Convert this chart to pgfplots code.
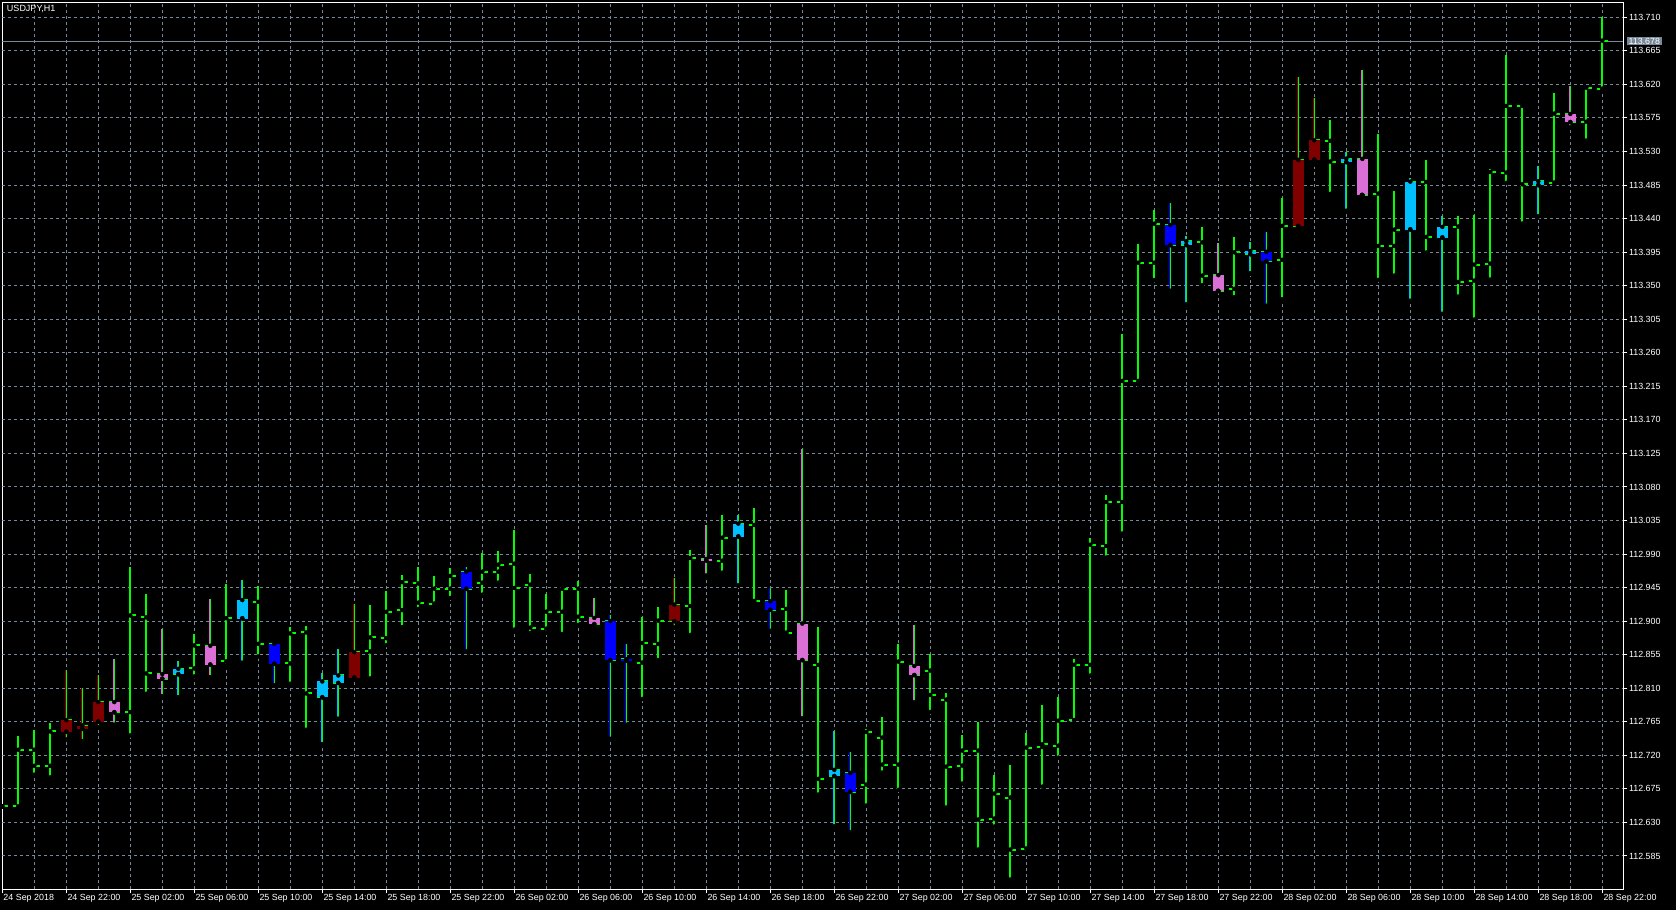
\documentclass[border=0pt]{standalone}
\usepackage{pgfplots}
\pgfplotsset{compat=1.18}
\usepackage{pgfplotstable}
\usepackage{fontspec}
\setmainfont{Liberation Sans}

\definecolor{barGreen}{HTML}{00FF00}
\definecolor{cMaroon}{HTML}{800000}
\definecolor{cPink}{HTML}{DA70D6}
\definecolor{cSky}{HTML}{00BFFF}
\definecolor{cBlue}{HTML}{0000FF}
\definecolor{gridGray}{HTML}{778899}

\newcommand{\ticksize}{\fontsize{8.9pt}{10pt}\selectfont}

% hourly bars USDJPY H1, x = bar index (0 = 24 Sep 18:00)
\pgfplotstableread{
x O H L C
0 112.6515 112.6515 112.6515 112.6515
1 112.6515 112.746 112.649 112.7275
2 112.7275 112.7534 112.694 112.706
3 112.706 112.7637 112.6904 112.752
4 112.752 112.8347 112.741 112.7672
5 112.756 112.810 112.739 112.760
6 112.7655 112.8271 112.7574 112.7914
7 112.7914 112.8495 112.761 112.778
8 112.778 112.972 112.7467 112.9076
9 112.905 112.9367 112.8026 112.8298
10 112.829 112.8897 112.799 112.823
11 112.829 112.8464 112.7976 112.836
12 112.8365 112.883 112.8258 112.8674
13 112.867 112.930 112.8245 112.842
14 112.8459 112.9496 112.8406 112.904
15 112.904 112.9554 112.8441 112.9282
16 112.9259 112.9474 112.8526 112.8696
17 112.8696 112.8714 112.8137 112.8432
18 112.8432 112.8924 112.816 112.8835
19 112.8848 112.8937 112.7543 112.803
20 112.7981 112.8307 112.7346 112.8191
21 112.8173 112.8629 112.769 112.8271
22 112.8245 112.9228 112.8227 112.8584
23 112.8593 112.9215 112.8231 112.8781
24 112.8772 112.9407 112.8678 112.9125
25 112.9148 112.9617 112.892 112.9523
26 112.9505 112.9726 112.9163 112.9248
27 112.9235 112.9606 112.919 112.9436
28 112.9436 112.9713 112.9311 112.9606
29 112.9664 112.9731 112.8591 112.9436
30 112.9516 112.991 112.9355 112.9664
31 112.9664 112.9941 112.9516 112.9758
32 112.9771 113.0223 112.8886 112.9445
33 112.949 112.9633 112.8841 112.8913
34 112.8899 112.9364 112.8841 112.9127
35 112.9127 112.9454 112.8828 112.9436
36 112.9436 112.9539 112.8949 112.906
37 112.9043 112.9311 112.8926 112.8962
38 112.9002 112.9078 112.742 112.8479
39 112.8488 112.8689 112.7608 112.8475
40 112.8444 112.9056 112.7956 112.8707
41 112.8694 112.919 112.8479 112.9007
42 112.9002 112.9574 112.8913 112.9221
43 112.9203 112.9954 112.8815 112.9847
44 112.9834 113.029 112.961 112.9816
45 112.9811 113.0424 112.965 113.012
46 113.0138 113.042 112.9477 113.0308
47 113.029 113.0514 112.9249 112.9271
48 112.9267 112.9441 112.8869 112.9155
49 112.9164 112.9414 112.8837 112.8846
50 112.8967 113.1305 112.7693 112.848
51 112.8413 112.8918 112.6674 112.6884
52 112.6924 112.7523 112.6245 112.7005
53 112.6964 112.7242 112.6164 112.6714
54 112.6808 112.755 112.6526 112.7514
55 112.7438 112.7715 112.6969 112.7076
56 112.7076 112.8694 112.6736 112.8457
57 112.8399 112.8945 112.7908 112.8279
58 112.8337 112.8556 112.7782 112.801
59 112.7948 112.8033 112.65 112.7049
60 112.7063 112.7474 112.6821 112.7264
61 112.7264 112.7648 112.5936 112.6339
62 112.6352 112.6933 112.6245 112.6687
63 112.6634 112.7072 112.5534 112.5936
64 112.595 112.7496 112.5896 112.7304
65 112.7312 112.7876 112.678 112.7348
66 112.733 112.7983 112.7169 112.7665
67 112.7674 112.8492 112.767 112.8416
68 112.8414 113.0114 112.827 113.0025
69 113.0008 113.0693 112.9853 113.0598
70 113.0598 113.2851 113.0175 113.2222
71 113.2222 113.4058 113.2172 113.3808
72 113.3808 113.4514 113.3574 113.4331
73 113.4314 113.4609 113.343 113.4047
74 113.4047 113.4164 113.3246 113.4097
75 113.408 113.4286 113.3507 113.3635
76 113.3641 113.4075 113.343 113.343
77 113.3457 113.4153 113.3346 113.3947
78 113.3925 113.4086 113.3663 113.3965
79 113.3953 113.422 113.3229 113.383
80 113.3847 113.4676 113.3318 113.4303
81 113.4303 113.630 113.4286 113.5188
82 113.5193 113.6011 113.5126 113.5449
83 113.5443 113.5722 113.4731 113.5165
84 113.516 113.5289 113.4503 113.5204
85 113.520 113.6393 113.4717 113.4717
86 113.4735 113.5535 113.3577 113.4033
87 113.4033 113.4771 113.3635 113.4252
88 113.4257 113.4941 113.3296 113.4896
89 113.4891 113.5186 113.3944 113.4154
90 113.4149 113.4436 113.3121 113.4288
91 113.4293 113.4436 113.3354 113.355
92 113.3568 113.4449 113.3045 113.3783
93 113.3796 113.5066 113.3582 113.5026
94 113.5017 113.6595 113.4878 113.5911
95 113.5911 113.5933 113.4333 113.486
96 113.4851 113.5106 113.4427 113.490
97 113.4883 113.6085 113.4851 113.5808
98 113.5803 113.6179 113.562 113.5696
99 113.570 113.6174 113.5446 113.6156
100 113.6143 113.7104 113.6134 113.6787
}\bars

\pgfplotstableread{
x O H L C
4 112.752 112.8347 112.741 112.7672
5 112.756 112.810 112.739 112.760
6 112.7655 112.8271 112.7574 112.7914
22 112.8245 112.9228 112.8227 112.8584
42 112.9002 112.9574 112.8913 112.9221
81 113.4303 113.630 113.4286 113.5188
82 113.5193 113.6011 113.5126 113.5449
}\maroonc

\pgfplotstableread{
x O H L C
7 112.7914 112.8495 112.761 112.778
10 112.829 112.8897 112.799 112.823
13 112.867 112.930 112.8245 112.842
37 112.9043 112.9311 112.8926 112.8962
44 112.9834 113.029 112.961 112.9816
50 112.8967 113.1305 112.7693 112.848
57 112.8399 112.8945 112.7908 112.8279
76 113.3641 113.4075 113.343 113.343
85 113.520 113.6393 113.4717 113.4717
98 113.5803 113.6179 113.562 113.5696
}\pinkc

\pgfplotstableread{
x O H L C
11 112.829 112.8464 112.7976 112.836
15 112.904 112.9554 112.8441 112.9282
20 112.7981 112.8307 112.7346 112.8191
21 112.8173 112.8629 112.769 112.8271
46 113.0138 113.042 112.9477 113.0308
52 112.6924 112.7523 112.6245 112.7005
74 113.4047 113.4164 113.3246 113.4097
78 113.3925 113.4086 113.3663 113.3965
84 113.516 113.5289 113.4503 113.5204
88 113.4257 113.4941 113.3296 113.4896
90 113.4149 113.4436 113.3121 113.4288
96 113.4851 113.5106 113.4427 113.490
}\skyc

\pgfplotstableread{
x O H L C
17 112.8696 112.8714 112.8137 112.8432
29 112.9664 112.9731 112.8591 112.9436
38 112.9002 112.9078 112.742 112.8479
39 112.8488 112.8689 112.7608 112.8475
48 112.9267 112.9441 112.8869 112.9155
53 112.6964 112.7242 112.6164 112.6714
73 113.4314 113.4609 113.343 113.4047
79 113.3953 113.422 113.3229 113.383
}\bluec

\pgfplotsset{
  vseg/.style n args={2}{only marks, mark=none, forget plot,
    error bars/.cd, y dir=plus, y explicit, error mark=none,
    error bar style={draw=#1, line width=#2, line cap=butt, solid}},
  hseg/.style={only marks, mark=none, forget plot,
    error bars/.cd, x dir=#1, x fixed=0.36, error mark=none,
    error bar style={draw=barGreen, line width=2pt, line cap=butt, solid}},
  gridline/.style={gridGray, line width=1pt, dash pattern=on 3pt off 3pt, mark=none, forget plot},
}

\newcommand{\candles}[2]{%
  \addplot[vseg={#2}{1pt}] table[x expr={\thisrow{x}-0.03},
    y=L, y error expr={\thisrow{H}-\thisrow{L}}] {#1};
  \addplot[vseg={#2}{11pt}] table[x=x,
    y expr={min(\thisrow{O},\thisrow{C})-0.0005},
    y error expr={max(abs(\thisrow{O}-\thisrow{C}),0.0014)+0.0005}] {#1};
}

\begin{document}
\begin{tikzpicture}
\fill[black] (-2.3pt,-20.7pt) rectangle (1673.7pt,889.3pt);
\begin{axis}[
  at={(0pt,0pt)}, anchor=south west,
  scale only axis, width=1621pt, height=887pt,
  xmin=0, xmax=101.3125, ymin=112.5403, ymax=113.7301,
  axis line style={white, line width=1pt},
  xtick=\empty,
  ytick={112.585,112.630,112.675,112.720,112.765,112.810,112.855,112.900,112.945,112.990,113.035,113.080,113.125,113.170,113.215,113.260,113.305,113.350,113.395,113.440,113.485,113.530,113.575,113.620,113.665,113.710},
  yticklabels={112.585,112.630,112.675,112.720,112.765,112.810,112.855,112.900,112.945,112.990,113.035,113.080,113.125,113.170,113.215,113.260,113.305,113.350,113.395,113.440,113.485,113.530,113.575,113.620,113.665,113.710},
  tick align=outside, major tick length=4pt,
  xtick pos=bottom, ytick pos=right, yticklabel pos=right,
  xtick style={draw=white, line width=1pt},
  ytick style={draw=white, line width=1pt},
  ticklabel style={font=\ticksize, text=white},
  yticklabel style={anchor=west, inner sep=0pt, xshift=1.5pt},
  extra x ticks={0,4,...,100},
  extra x tick labels={24 Sep 2018,24 Sep 22:00,25 Sep 02:00,25 Sep 06:00,25 Sep 10:00,25 Sep 14:00,25 Sep 18:00,25 Sep 22:00,26 Sep 02:00,26 Sep 06:00,26 Sep 10:00,26 Sep 14:00,26 Sep 18:00,26 Sep 22:00,27 Sep 02:00,27 Sep 06:00,27 Sep 10:00,27 Sep 14:00,27 Sep 18:00,27 Sep 22:00,28 Sep 02:00,28 Sep 06:00,28 Sep 10:00,28 Sep 14:00,28 Sep 18:00,28 Sep 22:00},
  extra x tick style={grid=none, xtick style={draw=white, line width=1pt},
    xticklabel style={anchor=north west, inner sep=0pt, xshift=1pt, yshift=-1pt}},
  extra y ticks={113.678}, extra y tick labels={113.678},
  extra y tick style={grid=none, ytick style={draw=none},
    yticklabel style={fill=gridGray, inner xsep=1.5pt, inner ysep=1.2pt, xshift=-2pt}},
  clip=true,
]
% grid (drawn first, under the bars)
\pgfplotsinvokeforeach{2,4,...,100}{
  \addplot[gridline] coordinates {(#1,112.5403) (#1,113.7301)};
}
\pgfplotsinvokeforeach{112.585,112.630,112.675,112.720,112.765,112.810,112.855,112.900,112.945,112.990,113.035,113.080,113.125,113.170,113.215,113.260,113.305,113.350,113.395,113.440,113.485,113.530,113.575,113.620,113.665,113.710}{
  \addplot[gridline] coordinates {(0,#1) (101.3125,#1)};
}
% bid line
\addplot[gridGray, line width=1pt, mark=none, forget plot] coordinates {(0,113.678) (101.3125,113.678)};
% green OHLC bars
\addplot[vseg={barGreen}{2pt}] table[x=x, y=L,
  y error expr={\thisrow{H}-\thisrow{L}}] {\bars};
\addplot[hseg=minus] table[x=x, y=O] {\bars};
\addplot[hseg=plus] table[x=x, y=C] {\bars};
% highlighted candles
\candles{\maroonc}{cMaroon}
\candles{\pinkc}{cPink}
\candles{\skyc}{cSky}
\candles{\bluec}{cBlue}
\node[anchor=north west, text=white, inner sep=0pt, font=\fontsize{9pt}{10pt}\selectfont]
  at (rel axis cs:0,1) [xshift=4.5pt, yshift=-3pt] {USDJPY,H1};
\end{axis}
\pgfresetboundingbox
\path[use as bounding box] (-2.3pt,-20.7pt) rectangle (1673.7pt,889.3pt);
\end{tikzpicture}
\end{document}
